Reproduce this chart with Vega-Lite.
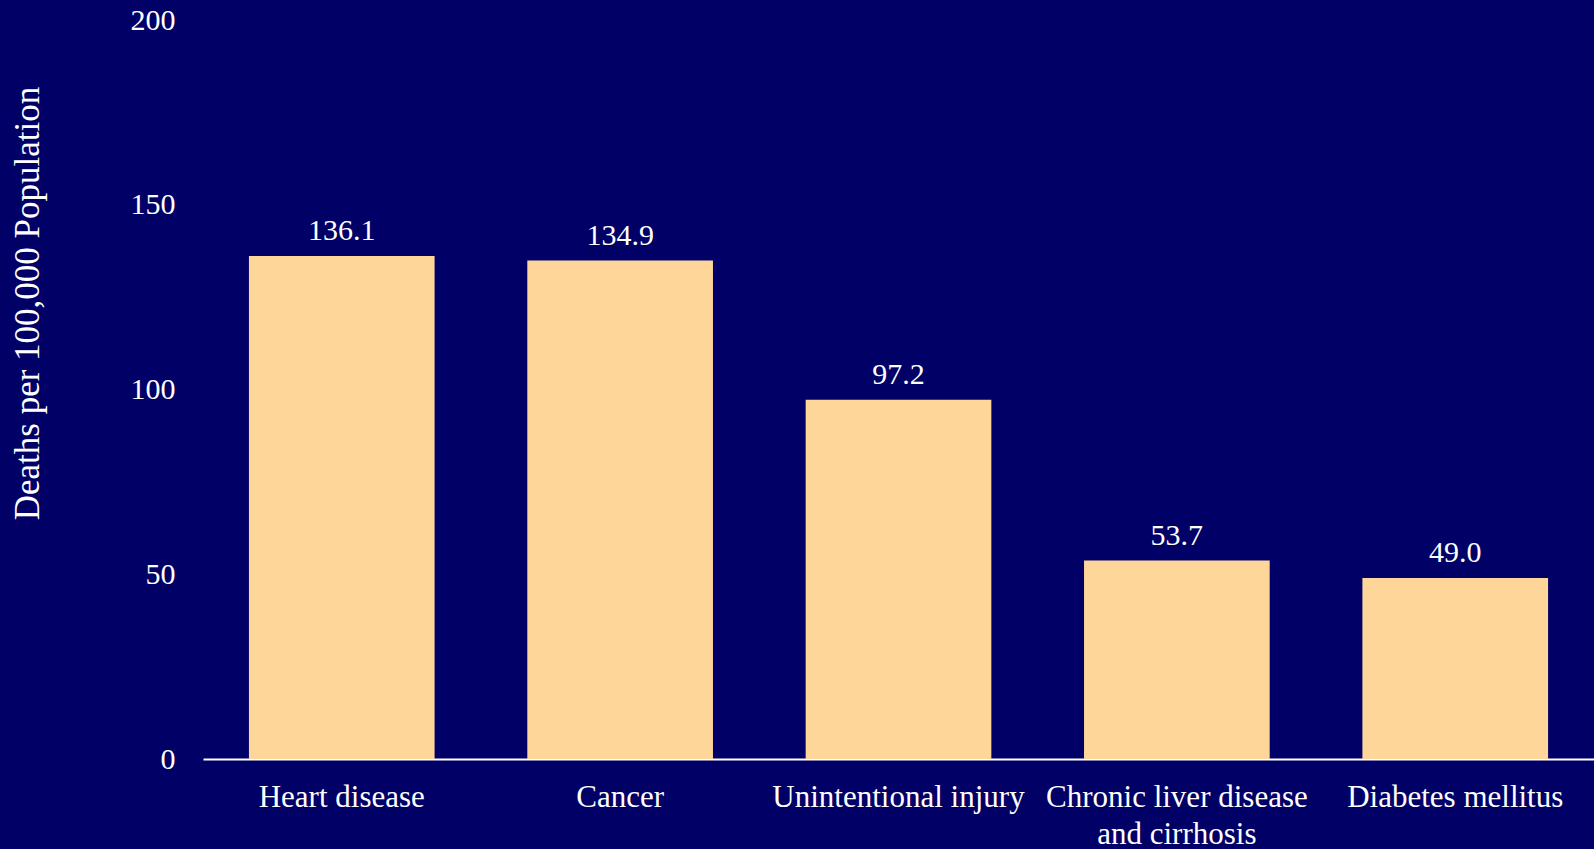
{
  "$schema": "https://vega.github.io/schema/vega-lite/v6.json",
  "autosize": "none",
  "width": 1391,
  "height": 739,
  "padding": {"left": 203, "top": 20, "right": 0, "bottom": 90},
  "background": "#000066",
  "config": {"view": {"stroke": null}, "font": "Liberation Serif"},
  "data": {"values": [
    {"cause": "Heart disease", "rate": 136.1},
    {"cause": "Cancer", "rate": 134.9},
    {"cause": "Unintentional injury", "rate": 97.2},
    {"cause": "Chronic liver disease and cirrhosis", "rate": 53.7},
    {"cause": "Diabetes mellitus", "rate": 49.0}
  ]},
  "encoding": {
    "x": {"field": "cause", "type": "nominal", "sort": null,
      "scale": {"paddingInner": 0.333, "paddingOuter": 0.165},
      "axis": {"title": null, "labelAngle": 0, "labelColor": "white", "labelFont": "Liberation Serif", "labelFontSize": 31,
        "labelPadding": 23, "labelOverlap": false, "labelLimit": 600, "labelLineHeight": 37,
        "labelExpr": "datum.label == 'Chronic liver disease and cirrhosis' ? ['Chronic liver disease', 'and cirrhosis'] : datum.label",
        "domainColor": "white", "domainWidth": 2, "ticks": false}},
    "y": {"field": "rate", "type": "quantitative",
      "scale": {"domain": [0, 200]},
      "axis": {"title": "Deaths per 100,000 Population", "values": [0, 50, 100, 150, 200], "grid": false, "domain": false, "ticks": false,
        "labelColor": "white", "labelFont": "Liberation Serif", "labelFontSize": 30, "labelPadding": 28,
        "titleColor": "white", "titleFont": "Liberation Serif", "titleFontSize": 35, "titleFontWeight": "normal",
        "titleX": -176, "titleY": 283, "titleBaseline": "middle", "titleAngle": -90, "titleAlign": "center"}}
  },
  "layer": [
    {"mark": {"type": "bar", "color": "#FFD699"}},
    {"mark": {"type": "text", "color": "white", "font": "Liberation Serif", "fontSize": 30, "baseline": "bottom", "dy": -10},
      "encoding": {"text": {"field": "rate", "type": "quantitative", "format": ".1f"}}}
  ]
}
